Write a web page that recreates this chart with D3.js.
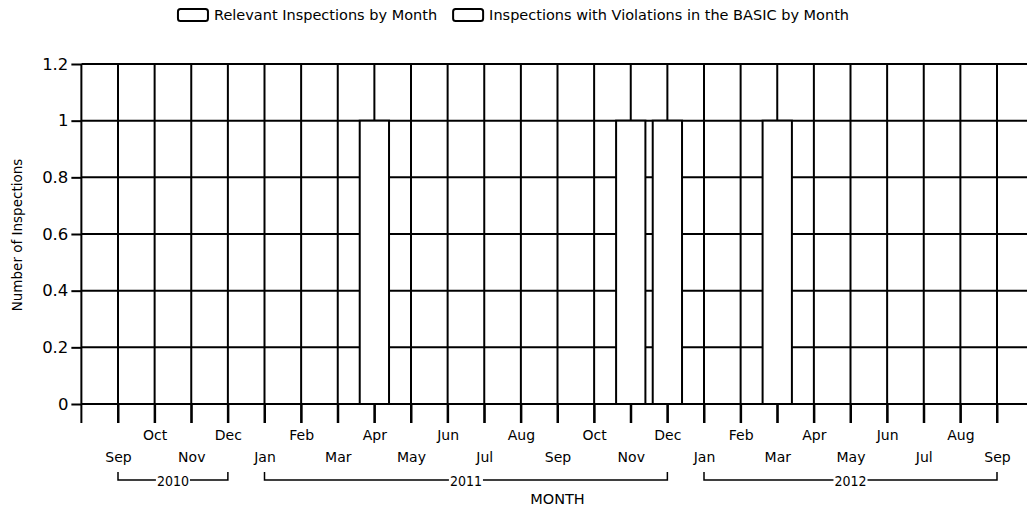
<!DOCTYPE html>
<html>
<head>
<meta charset="utf-8">
<script src="https://cdn.jsdelivr.net/npm/d3@7"></script>
<style>
  html, body { margin: 0; padding: 0; background: #fff; }
  svg { display: block; }
  text { font-family: "DejaVu Sans", sans-serif; fill: #000; }
</style>
</head>
<body>
<svg id="chart" width="1027" height="512"></svg>
<script>
// ---- data ----
const months = ["Sep","Oct","Nov","Dec","Jan","Feb","Mar","Apr","May","Jun","Jul","Aug",
                "Sep","Oct","Nov","Dec","Jan","Feb","Mar","Apr","May","Jun","Jul","Aug","Sep"];
const monthYears = [2010,2010,2010,2010,2011,2011,2011,2011,2011,2011,2011,2011,
                    2011,2011,2011,2011,2012,2012,2012,2012,2012,2012,2012,2012,2012];
const relevantInspections = [0,0,0,0,0,0,0,1,0,0,0,0,0,0,1,1,0,0,1,0,0,0,0,0,0];
const violationInspections = [0,0,0,0,0,0,0,0,0,0,0,0,0,0,0,0,0,0,0,0,0,0,0,0,0];
const yTicks = [0, 0.2, 0.4, 0.6, 0.8, 1, 1.2];
const yearGroups = [
  {year: "2010", first: 0, last: 3},
  {year: "2011", first: 4, last: 15},
  {year: "2012", first: 16, last: 24}
];
const legendLabels = ["Relevant Inspections by Month", "Inspections with Violations in the BASIC by Month"];

// ---- layout ----
const W = 1027;
const svg = d3.select("#chart");
const keys = months.map((m, i) => i);
const x = d3.scalePoint().domain(keys).range([118, 997]);
const step = x.step();
const left = x(0) - step, right = x(keys.length - 1) + step;
const y = d3.scaleLinear().domain([0, 1.2]).range([404, 64]);
const barW = step * 0.8;
const lw = 2;

// horizontal grid
svg.append("g").selectAll("line").data(yTicks).join("line")
  .attr("x1", left).attr("x2", right)
  .attr("y1", d => y(d)).attr("y2", d => y(d))
  .attr("stroke", "#000").attr("stroke-width", lw);

// vertical grid (at month positions plus the edges)
const vPos = [left, ...keys.map(k => x(k)), right];
svg.append("g").selectAll("line").data(vPos).join("line")
  .attr("x1", d => d).attr("x2", d => d)
  .attr("y1", y(1.2)).attr("y2", y(0) + 19)
  .attr("stroke", "#000").attr("stroke-width", lw);

// bars
const bars = svg.append("g");
bars.selectAll("rect.rel").data(keys).join("rect").attr("class", "rel")
  .attr("x", k => x(k) - barW / 2).attr("width", barW)
  .attr("y", k => y(relevantInspections[k]))
  .attr("height", k => y(0) - y(relevantInspections[k]))
  .attr("fill", "#fff").attr("stroke", "#000").attr("stroke-width", lw);
bars.selectAll("rect.vio").data(keys).join("rect").attr("class", "vio")
  .attr("x", k => x(k) - barW / 2).attr("width", barW)
  .attr("y", k => y(violationInspections[k]))
  .attr("height", k => y(0) - y(violationInspections[k]))
  .attr("fill", "#fff").attr("stroke", "#000").attr("stroke-width", lw);

// y axis
const yAxis = d3.axisLeft(y).tickValues(yTicks).tickSize(10).tickPadding(3)
  .tickFormat(d => String(+d.toFixed(1)));
const gy = svg.append("g").attr("transform", `translate(${left},0)`).call(yAxis);
gy.select(".domain").remove();
gy.selectAll(".tick line").attr("stroke", "#000").attr("stroke-width", lw);
gy.selectAll(".tick text").attr("fill", "#000")
  .style("font-family", "'DejaVu Sans', sans-serif").style("font-size", "16.5px");

// x axis
const xAxis = d3.axisBottom(x).tickSize(19).tickFormat(k => months[k]);
const gx = svg.append("g").attr("transform", `translate(0,${y(0)})`).call(xAxis);
gx.select(".domain").attr("stroke", "#000").attr("stroke-width", lw)
  .attr("d", `M${left},0H${right}`);
gx.selectAll(".tick line").attr("stroke", "#000").attr("stroke-width", lw);
gx.selectAll(".tick text").attr("fill", "#000")
  .style("font-family", "'DejaVu Sans', sans-serif").style("font-size", "14px")
  .attr("y", k => (k % 2 === 0) ? 58 : 36).attr("dy", "0");

// year brackets
const yb = svg.append("g");
yearGroups.forEach(g => {
  const x1 = x(g.first), x2 = x(g.last), by = 480;
  yb.append("path")
    .attr("d", `M${x1},${by - 8}V${by}H${x2}V${by - 8}`)
    .attr("fill", "none").attr("stroke", "#000").attr("stroke-width", 1.5);
  const t = yb.append("text")
    .attr("x", (x1 + x2) / 2).attr("y", by + 6)
    .attr("text-anchor", "middle").style("font-size", "14px")
    .style("font-family", "'DejaVu Sans Condensed', 'DejaVu Sans', sans-serif").text(g.year);
  const bb = t.node().getBBox();
  yb.insert("rect", () => t.node())
    .attr("x", bb.x - 1).attr("y", by - 3).attr("width", bb.width + 2).attr("height", 6)
    .attr("fill", "#fff");
});

// axis titles
svg.append("text")
  .attr("x", (left + right) / 2).attr("y", 504).attr("text-anchor", "middle")
  .style("font-size", "14.5px").text("MONTH");
svg.append("text")
  .attr("transform", `translate(22,235) rotate(-90)`).attr("text-anchor", "middle")
  .style("font-size", "13.5px").text("Number of Inspections");

// legend (centred across the page)
const lg = svg.append("g");
const sw = 30, sh = 12, gapT = 6, gapI = 16;
const texts = legendLabels.map(lab => lg.append("text").attr("y", 20)
  .style("font-size", "14.5px").text(lab));
const widths = texts.map(t => t.node().getComputedTextLength());
const total = widths.reduce((a, w) => a + sw + gapT + w, 0) + gapI * (legendLabels.length - 1);
let lx = (W - total) / 2;
texts.forEach((t, i) => {
  lg.append("rect").attr("x", lx).attr("y", 9).attr("width", sw).attr("height", sh)
    .attr("rx", 2.5).attr("fill", "#fff").attr("stroke", "#000").attr("stroke-width", 2);
  t.attr("x", lx + sw + gapT);
  lx += sw + gapT + widths[i] + gapI;
});
</script>
</body>
</html>
